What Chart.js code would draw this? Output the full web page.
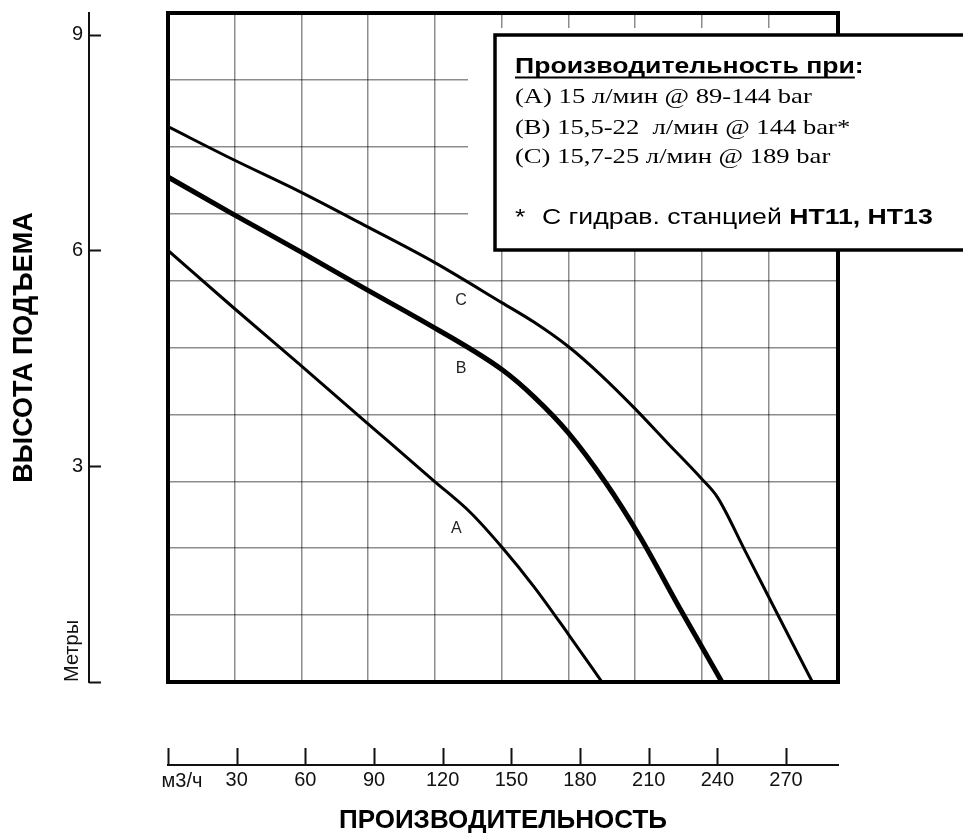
<!DOCTYPE html>
<html>
<head>
<meta charset="utf-8">
<script src="https://cdn.jsdelivr.net/npm/chart.js@4.4.0/dist/chart.umd.min.js"></script>
<style>
  html, body { margin: 0; padding: 0; background: #fff; }
  canvas { display: block; }
</style>
</head>
<body>
<canvas id="pumpChart" width="963" height="836"></canvas>
<script>
// flow (м3/ч) and head (м)
var flowA = [0, 28, 58, 87, 116, 132, 146, 160, 175, 189.6];
var headA = [6.0, 5.22, 4.40, 3.6, 2.8, 2.36, 1.87, 1.32, 0.66, 0];
var flowB = [0, 28, 58, 87, 110, 146, 160, 175, 191, 206, 224, 242];
var headB = [7.02, 6.51, 5.98, 5.45, 5.04, 4.34, 3.96, 3.46, 2.78, 2.03, 1.0, 0];
var flowC = [0, 28, 58, 87, 116, 146, 160, 175, 189, 204, 218, 233, 240, 252, 266, 281.5];
var headC = [7.72, 7.27, 6.81, 6.33, 5.84, 5.27, 5.0, 4.66, 4.27, 3.80, 3.33, 2.83, 2.57, 1.83, 0.96, 0];

var curveNames = ['A', 'B', 'C'];
var labelFlow = [126, 128, 128];
var labelHead = [2.13, 4.35, 5.30];

var flowTicks = [0, 30, 60, 90, 120, 150, 180, 210, 240, 270];
var headTicks = [0, 3, 6, 9];

var noteTitle = 'Производительность при';
var noteLines = ['(A) 15 л/мин @ 89-144 bar', '(B) 15,5-22  л/мин @ 144 bar*', '(C) 15,7-25 л/мин @ 189 bar'];
var noteFoot = 'С гидрав. станцией ';
var noteFootBold = 'HT11, HT13';

var sans = '"Liberation Sans", Arial, sans-serif';
var serif = '"Liberation Serif", "Times New Roman", serif';
var gridColor = 'rgba(0,0,0,0.45)';
var stretch = 1.21;   // the note text is wide in the original

var pts = (fx, hy) => fx.map((f, i) => ({ x: f, y: hy[i] }));

var innerGrid = (c) => {
    var v = c.tick ? c.tick.value : 0;
    return (v > 0.01 && v < 9.99) ? gridColor : 'rgba(0,0,0,0)';
};

var decor = {
    id: 'decor',
    beforeDatasetsDraw(chart) {
        var ctx = chart.ctx, a = chart.chartArea;
        // white margin round the note box
        ctx.save();
        ctx.fillStyle = '#fff';
        ctx.fillRect(468, a.top + 15, a.right - 2 - 468, 250 - a.top - 15);
        ctx.restore();
    },
    afterDatasetsDraw(chart) {
        var ctx = chart.ctx, a = chart.chartArea;
        var sx = chart.scales.x2, sy = chart.scales.y2;
        ctx.save();
        ctx.strokeStyle = '#000';
        ctx.lineWidth = 4;
        ctx.strokeRect(a.left, a.top, a.right - a.left, a.bottom - a.top);

        ctx.fillStyle = '#222';
        ctx.font = '16px ' + sans;
        ctx.textAlign = 'center';
        ctx.textBaseline = 'middle';
        curveNames.forEach((n, i) => {
            ctx.fillText(n, sx.getPixelForValue(labelFlow[i]), sy.getPixelForValue(labelHead[i]));
        });
        ctx.restore();
    },
    afterDraw(chart) {
        var ctx = chart.ctx;
        var sx = chart.scales.x2, sy = chart.scales.y2;
        ctx.save();
        ctx.strokeStyle = '#111';
        ctx.lineWidth = 2;
        // upward ticks on the flow axis
        flowTicks.forEach((v) => {
            var px = Math.round(sx.getPixelForValue(v)) + 0.5;
            ctx.beginPath();
            ctx.moveTo(px, sx.top);
            ctx.lineTo(px, sx.top - 17);
            ctx.stroke();
        });
        // inward ticks on the head axis
        headTicks.forEach((v) => {
            var py = Math.round(sy.getPixelForValue(v)) + 0.5;
            ctx.beginPath();
            ctx.moveTo(sy.right, py);
            ctx.lineTo(sy.right + 12, py);
            ctx.stroke();
        });

        ctx.fillStyle = '#111';
        ctx.font = '20px ' + sans;
        ctx.textAlign = 'center';
        ctx.textBaseline = 'alphabetic';
        ctx.fillText('м3/ч', sx.getPixelForValue(0) + 14, sx.top + 22);

        ctx.save();
        ctx.translate(72, sy.getPixelForValue(0));
        ctx.rotate(-Math.PI / 2);
        ctx.textAlign = 'left';
        ctx.textBaseline = 'middle';
        ctx.fillText('Метры', 0, 0);
        ctx.restore();

        // note box
        ctx.fillStyle = '#fff';
        ctx.fillRect(495, 35, 480, 215);
        ctx.lineWidth = 3.5;
        ctx.strokeStyle = '#000';
        ctx.strokeRect(495, 35, 480, 215);

        ctx.save();
        ctx.translate(515, 0);
        ctx.scale(stretch, 1);
        ctx.fillStyle = '#000';
        ctx.strokeStyle = '#000';
        ctx.textAlign = 'left';
        ctx.textBaseline = 'alphabetic';
        ctx.font = 'bold 22px ' + sans;
        ctx.fillText(noteTitle, 0, 73);
        var tw = ctx.measureText(noteTitle).width;
        ctx.fillText(':', tw, 73);
        ctx.fillRect(0, 76.5, tw, 2);

        ctx.font = '22px ' + serif;
        var base = [103, 134, 163];
        noteLines.forEach((t, i) => ctx.fillText(t, 0, base[i]));

        ctx.font = '22px ' + sans;
        ctx.fillText('*', 0, 224);
        var fx = 27 / stretch;
        ctx.fillText(noteFoot, fx, 224);
        var fw = ctx.measureText(noteFoot).width;
        ctx.font = 'bold 22px ' + sans;
        ctx.fillText(noteFootBold, fx + fw, 224);
        ctx.restore();
        ctx.restore();
    }
};

var lineStyle = {
    borderColor: '#000',
    pointRadius: 0,
    fill: false,
    cubicInterpolationMode: 'monotone',
    xAxisID: 'x2',
    yAxisID: 'y2'
};

new Chart(document.getElementById('pumpChart'), {
    type: 'line',
    data: {
        datasets: [
            Object.assign({ label: 'A', data: pts(flowA, headA), borderWidth: 3 }, lineStyle),
            Object.assign({ label: 'B', data: pts(flowB, headB), borderWidth: 5 }, lineStyle),
            Object.assign({ label: 'C', data: pts(flowC, headC), borderWidth: 3 }, lineStyle)
        ]
    },
    options: {
        responsive: false,
        animation: false,
        devicePixelRatio: 1,
        layout: { padding: { top: 13, right: 125, bottom: 0, left: 0 } },
        plugins: { legend: { display: false }, tooltip: { enabled: false } },
        scales: {
            x: {
                type: 'linear', position: 'bottom', weight: 0,
                min: 0, max: 10.04,
                ticks: { display: false, stepSize: 1 },
                grid: { drawTicks: false, lineWidth: 1.5, color: innerGrid },
                border: { display: false },
                afterFit: (s) => { s.height = 83; }
            },
            y: {
                type: 'linear', position: 'left', weight: 0,
                min: 0, max: 10,
                ticks: { display: false, stepSize: 1 },
                grid: { drawTicks: false, lineWidth: 1.5, color: innerGrid },
                border: { display: false },
                afterFit: (s) => { s.width = 79; }
            },
            x2: {
                type: 'linear', position: 'bottom', weight: 1,
                min: 0, max: 292.7,
                afterBuildTicks: (s) => { s.ticks = flowTicks.map((v) => ({ value: v })); },
                ticks: {
                    color: '#111', padding: -5,
                    font: { family: sans, size: 20 },
                    callback: (v) => v === 0 ? '' : String(v)
                },
                grid: { display: false },
                border: { display: true, color: '#111', width: 2 },
                title: {
                    display: true, text: 'ПРОИЗВОДИТЕЛЬНОСТЬ', color: '#000',
                    font: { family: sans, size: 26, weight: 'bold' },
                    padding: { top: 0, bottom: 0 }
                },
                afterFit: (s) => { s.height = 71; }
            },
            y2: {
                type: 'linear', position: 'left', weight: 1,
                min: 0, max: 9.3,
                afterBuildTicks: (s) => { s.ticks = headTicks.map((v) => ({ value: v })); },
                ticks: {
                    color: '#111', padding: -2,
                    font: { family: sans, size: 20 },
                    callback: (v) => v === 0 ? '' : String(v)
                },
                grid: { display: false },
                border: { display: true, color: '#111', width: 2 },
                title: {
                    display: true, text: 'ВЫСОТА ПОДЪЕМА', color: '#000',
                    font: { family: sans, size: 27, weight: 'bold' },
                    padding: { top: 8, bottom: 0 }
                },
                afterFit: (s) => { s.width = 89; }
            }
        }
    },
    plugins: [decor]
});
</script>
</body>
</html>
